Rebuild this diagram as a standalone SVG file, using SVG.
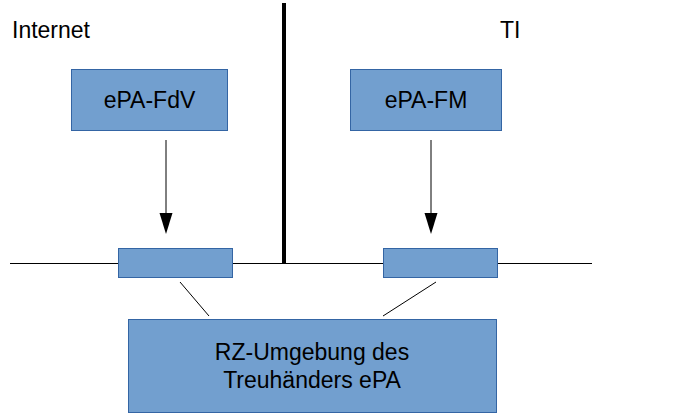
<svg xmlns="http://www.w3.org/2000/svg" width="676" height="414" viewBox="0 0 676 414">
<defs>
<style>
.box{fill:#729fcf;stroke:#3465a4;stroke-width:1}
.t{font-family:"Liberation Sans",Arial,sans-serif;font-size:23px;fill:#000}
.c{text-anchor:middle}
.ln{stroke:#000;stroke-width:1;fill:none}
.ah{fill:#000}
</style>
</defs>
<rect width="676" height="414" fill="#fff"/>
<g id="labels">
<text class="t" x="12" y="38">Internet</text>
<text class="t" x="500" y="38">TI</text>
</g>
<g id="connectors">
<line class="ln" x1="10" y1="263.5" x2="592" y2="263.5"/>
<line x1="284" y1="3" x2="284" y2="264" stroke="#000" stroke-width="4"/>
<line class="ln" x1="166" y1="140" x2="166" y2="213"/>
<path class="ah" d="M159.5,213 L172.5,213 L166,234 Z"/>
<line class="ln" x1="431" y1="140" x2="431" y2="213"/>
<path class="ah" d="M424.5,213 L437.5,213 L431,234 Z"/>
<line class="ln" x1="180" y1="282" x2="209" y2="316"/>
<line class="ln" x1="436" y1="282" x2="383" y2="316"/>
</g>
<g id="ePA-FdV">
<rect class="box" x="71.5" y="69.5" width="156" height="61"/>
<text class="t c" x="149.5" y="108">ePA-FdV</text>
</g>
<g id="ePA-FM">
<rect class="box" x="350.5" y="69.5" width="151" height="61"/>
<text class="t c" x="426" y="108">ePA-FM</text>
</g>
<g id="gw-left">
<rect class="box" x="118.5" y="248.5" width="114" height="29"/>
</g>
<g id="gw-right">
<rect class="box" x="383.5" y="248.5" width="114" height="29"/>
</g>
<g id="rz">
<rect class="box" x="128.5" y="319.5" width="368" height="93"/>
<text class="t c" x="312" y="360">RZ-Umgebung des</text>
<text class="t c" x="312" y="388">Treuhänders ePA</text>
</g>
</svg>
